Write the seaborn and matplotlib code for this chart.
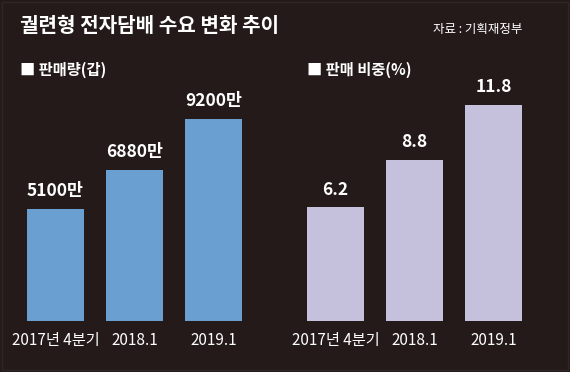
import matplotlib
matplotlib.use("Agg")
import matplotlib.pyplot as plt
import seaborn as sns
import pandas as pd
from matplotlib.patches import Rectangle

categories = ["2017년 4분기", "2018.1", "2019.1"]
sales = [5100, 6880, 9200]          # 만 갑
sales_labels = ["5100만", "6880만", "9200만"]
share = [6.2, 8.8, 11.8]            # %
share_labels = ["6.2", "8.8", "11.8"]

BG = "#231a19"
BLUE = "#6a9fd1"
LAV = "#c5c1dc"

sns.set_theme(style="white")
plt.rcParams['font.family'] = ['Noto Sans CJK KR', 'DejaVu Sans']

W, H = 570, 372
fig = plt.figure(figsize=(W / 100, H / 100), dpi=100, facecolor=BG)

def px_axes(x0, y_top, x1, y_bottom):
    return fig.add_axes([x0 / W, 1 - y_bottom / H, (x1 - x0) / W, (y_bottom - y_top) / H])

df1 = pd.DataFrame({"cat": categories, "val": sales})
df2 = pd.DataFrame({"cat": categories, "val": share})

ax1 = px_axes(16, 101, 253, 321)
ax2 = px_axes(296, 101, 533, 321)

for ax, df, color, labels, ymax in [
    (ax1, df1, BLUE, sales_labels, 10000),
    (ax2, df2, LAV, share_labels, 12.0),
]:
    sns.barplot(data=df, x="cat", y="val", hue="cat", palette=[color] * 3,
                legend=False, width=0.72, ax=ax, saturation=1, edgecolor="none")
    ax.set_facecolor(BG)
    ax.set_ylim(0, ymax)
    ax.set_xlim(-0.5, 2.5)
    for s in ax.spines.values():
        s.set_visible(False)
    ax.set_yticks([])
    ax.set_xlabel("")
    ax.set_ylabel("")
    ax.tick_params(axis="x", length=0, pad=8, colors="white", labelsize=11)
    for lbl in ax.get_xticklabels():
        lbl.set_color("white")
    for i, (v, t) in enumerate(zip(df["val"], labels)):
        ax.annotate(t, (i, v), xytext=(0, 6), textcoords="offset points",
                    ha="center", va="bottom", color="white", fontsize=12.5,
                    fontweight="bold", annotation_clip=False)

fig.text(20 / W, 1 - 25 / H, "궐련형 전자담배 수요 변화 추이", color="white",
         fontsize=14.5, fontweight="bold", ha="left", va="center")
fig.text(522 / W, 1 - 30 / H, "자료 : 기획재정부", color="white",
         fontsize=9, ha="right", va="center")
fig.text(20 / W, 1 - 70 / H, "■ 판매량(갑)", color="white",
         fontsize=11, fontweight="bold", ha="left", va="center")
fig.text(307 / W, 1 - 70 / H, "■ 판매 비중(%)", color="white",
         fontsize=11, fontweight="bold", ha="left", va="center")

fig.patches.append(Rectangle((0.004, 0.006), 0.992, 0.988, transform=fig.transFigure,
                             fill=False, edgecolor="#2e2726", linewidth=1.0))

fig.savefig("out.png", dpi=100, facecolor=BG)
